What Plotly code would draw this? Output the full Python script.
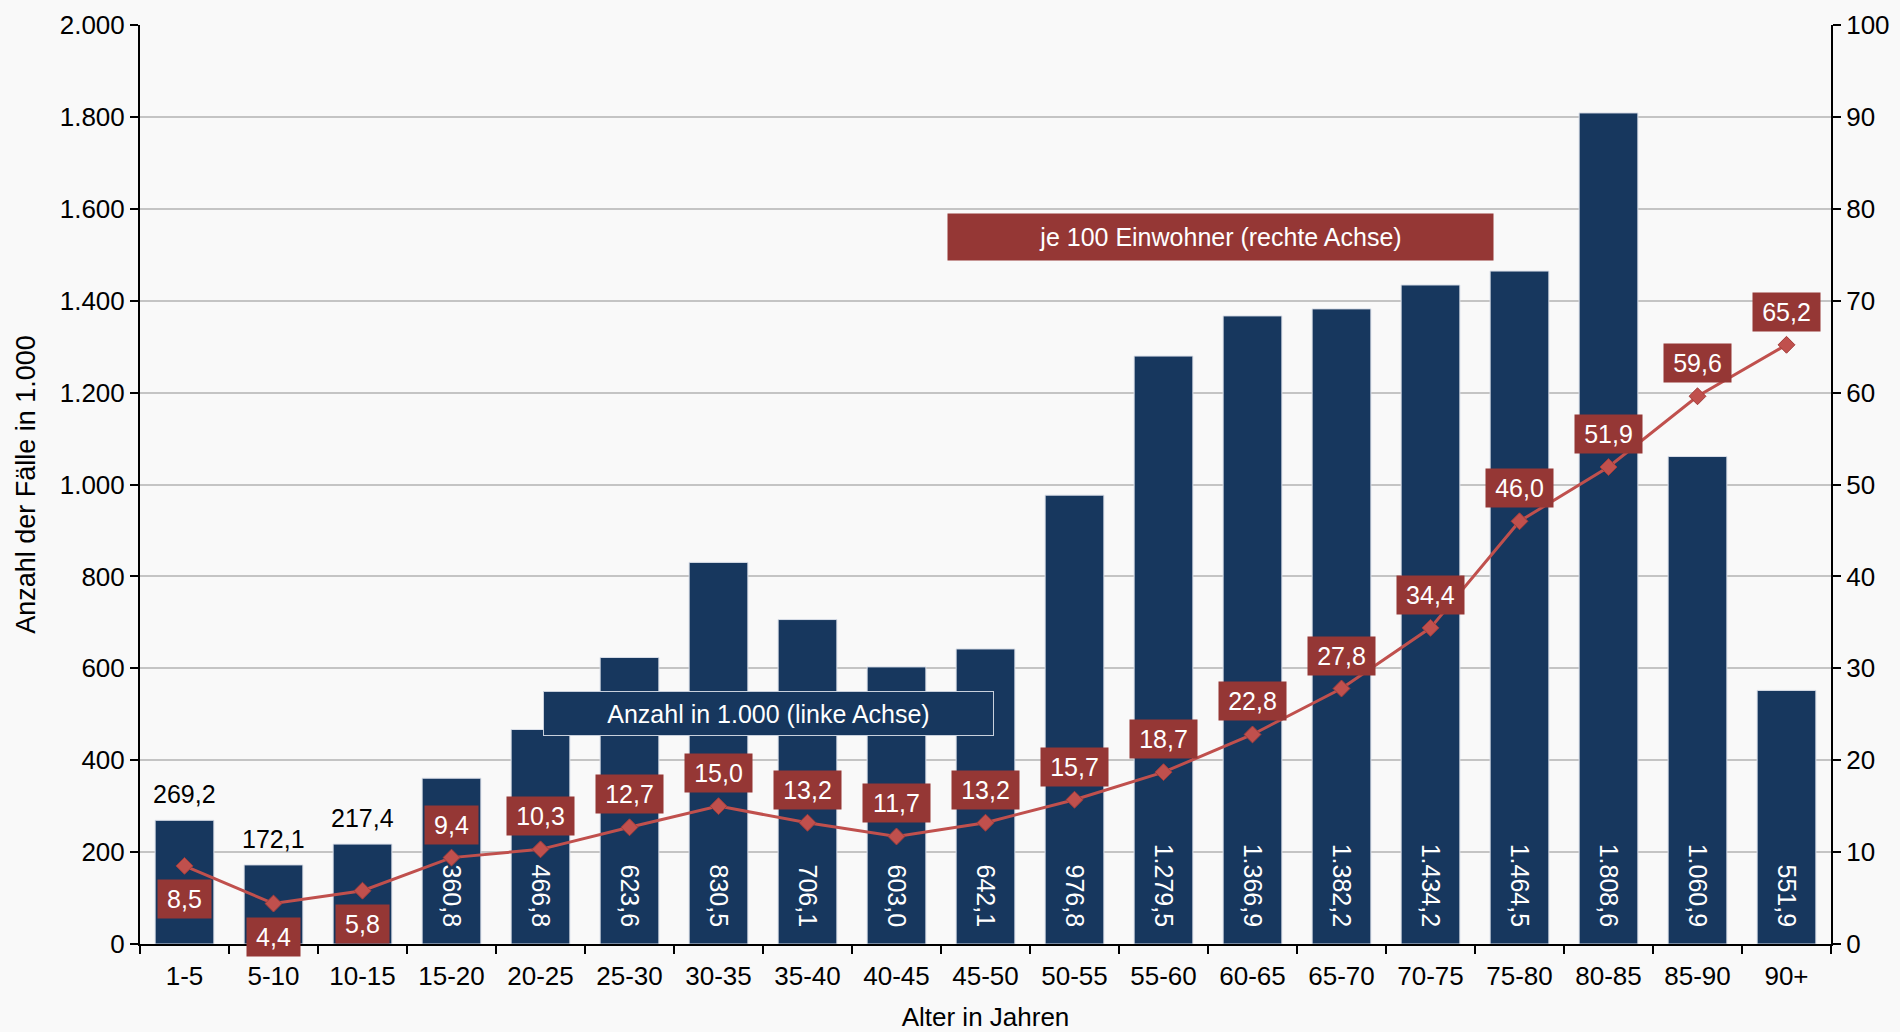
import plotly.graph_objects as go

categories = ["1-5", "5-10", "10-15", "15-20", "20-25", "25-30", "30-35", "35-40", "40-45",
              "45-50", "50-55", "55-60", "60-65", "65-70", "70-75", "75-80", "80-85", "85-90", "90+"]
faelle_tsd = [269.2, 172.1, 217.4, 360.8, 466.8, 623.6, 830.5, 706.1, 603.0, 642.1,
              976.8, 1279.5, 1366.9, 1382.2, 1434.2, 1464.5, 1808.6, 1060.9, 551.9]
je_100_einwohner = [8.5, 4.4, 5.8, 9.4, 10.3, 12.7, 15.0, 13.2, 11.7, 13.2,
                    15.7, 18.7, 22.8, 27.8, 34.4, 46.0, 51.9, 59.6, 65.2]
left_ticks = [0, 200, 400, 600, 800, 1000, 1200, 1400, 1600, 1800, 2000]
right_ticks = [0, 10, 20, 30, 40, 50, 60, 70, 80, 90, 100]

FONT = "Liberation Sans, Arial, sans-serif"
FS = 26
NAVY = "#17375E"
DARKRED = "#953735"
LINERED = "#C0504D"
BG = "#F9F9F9"


def de(v, dec=1):
    s = f"{v:,.{dec}f}"
    return s.replace(",", "X").replace(".", ",").replace("X", ".")


def textw(s, fs):
    w = {",": .278, ".": .278}
    return sum(w.get(c, .556) for c in s) * fs


n_outside = 3
bar_text = ["" if i < n_outside else de(v) + "\u00a0\u00a0" for i, v in enumerate(faelle_tsd)]

fig = go.Figure()
fig.add_trace(go.Bar(
    x=categories, y=faelle_tsd, yaxis="y",
    marker=dict(color=NAVY, line=dict(color="#D9DEE8", width=1)),
    text=bar_text, texttemplate="%{text}", textposition="inside",
    insidetextanchor="start", textangle=90,
    insidetextfont=dict(color="white", size=FS - 1, family=FONT),
    constraintext="none",
    hoverinfo="skip",
))
fig.add_trace(go.Scatter(
    x=categories, y=je_100_einwohner, yaxis="y2", mode="lines+markers",
    line=dict(color=LINERED, width=3),
    marker=dict(symbol="diamond", size=13, color=LINERED, line=dict(color="#A33C3A", width=1)),
    cliponaxis=False, hoverinfo="skip",
))

annotations = []
for i in range(n_outside):
    annotations.append(dict(
        x=categories[i], y=faelle_tsd[i], xref="x", yref="y", text=de(faelle_tsd[i]),
        showarrow=False, yanchor="bottom", yshift=10,
        font=dict(color="black", size=FS - 1, family=FONT)))

for i, v in enumerate(je_100_einwohner):
    below = i < 3
    lbl = de(v)
    annotations.append(dict(
        x=categories[i], y=v, xref="x", yref="y2", text=lbl, showarrow=False,
        yanchor="middle", yshift=-33 if below else 33,
        bgcolor=DARKRED, borderpad=3, width=round(textw(lbl, FS - 1)) + 12, height=32,
        font=dict(color="white", size=FS - 1, family=FONT)))

annotations.append(dict(
    x=0.3714, y=0.2503, xref="paper", yref="paper", xanchor="center", yanchor="middle",
    text="Anzahl in 1.000 (linke Achse)", showarrow=False,
    bgcolor=NAVY, bordercolor="#C8D0DC", borderwidth=1, borderpad=0,
    width=449, height=43, font=dict(color="white", size=FS - 1, family=FONT)))
annotations.append(dict(
    x=0.6387, y=0.7693, xref="paper", yref="paper", xanchor="center", yanchor="middle",
    text="je 100 Einwohner (rechte Achse)", showarrow=False,
    bgcolor=DARKRED, borderpad=0, width=545, height=46,
    font=dict(color="white", size=FS - 1, family=FONT)))

fig.update_layout(
    width=1900, height=1032,
    margin=dict(l=140, r=69, t=25, b=88, pad=0),
    paper_bgcolor=BG, plot_bgcolor=BG,
    separators=",.",
    showlegend=False,
    bargap=0.34,
    font=dict(family=FONT, size=FS, color="black"),
    xaxis=dict(
        type="category", range=[-0.5, len(categories) - 0.5], automargin=False,
        tickson="boundaries", ticks="outside", ticklen=8, tickwidth=2,
        tickcolor="black", showline=True, linecolor="black", linewidth=2,
        showgrid=False, tickfont=dict(size=FS), ticklabelstandoff=8,
        title=dict(text="Alter in Jahren", font=dict(size=FS), standoff=29),
    ),
    yaxis=dict(
        range=[0, 2000], tickvals=left_ticks, tickformat=",d", automargin=False,
        ticks="outside", ticklen=8, tickwidth=2, tickcolor="black",
        showline=True, linecolor="black", linewidth=2,
        showgrid=True, gridcolor="#C4C4C4", gridwidth=2, zeroline=False,
        tickfont=dict(size=FS),
        title=dict(text="Anzahl der Fälle in 1.000", font=dict(size=FS + 1), standoff=16),
    ),
    yaxis2=dict(
        range=[0, 100], tickvals=right_ticks, overlaying="y", side="right", automargin=False,
        ticks="outside", ticklen=8, tickwidth=2, tickcolor="black",
        showline=True, linecolor="black", linewidth=2,
        showgrid=False, zeroline=False, tickfont=dict(size=FS),
    ),
    annotations=annotations,
)

fig.write_html("out.html")
